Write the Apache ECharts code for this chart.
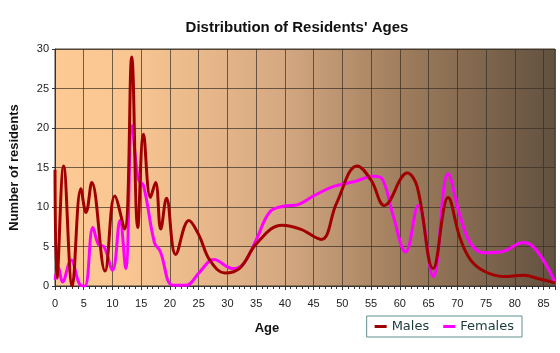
<!DOCTYPE html>
<html lang="en">
<head>
<meta charset="UTF-8">
<script src="https://cdn.jsdelivr.net/npm/echarts@6/dist/echarts.min.js"></script>
<title>Distribution of Residents' Ages</title>
<style>
  html, body { margin: 0; padding: 0; background: #fff; }
</style>
</head>
<body>
<div id="main" style="width:560px;height:353px;"></div>
<script type="text/javascript">
// ages (x) and counts (y)
var maleAges = [0, 0.35, 1.5, 3, 4.5, 5.4, 6.4, 8.7, 10.4, 12.1, 13.35, 14.4, 15.4, 16.6, 17.5, 18.4, 19.4, 21, 23.3, 25, 27, 29.6, 32.2, 35.1, 39.5, 42.7, 46.3, 49, 52.6, 55, 57.3, 61.3, 63, 65.8, 68.4, 70.5, 72.3, 74.6, 78, 81.5, 84.5, 87];
var maleCounts = [14.7, 1, 15.2, 0, 12.3, 9.3, 13.1, 1.9, 11.4, 7.2, 29, 7.4, 19.2, 11.2, 13.1, 7.2, 11.1, 4.0, 8.3, 6.5, 3.2, 1.65, 2.3, 5.4, 7.7, 7.2, 5.9, 10.5, 15.2, 13.4, 10.2, 14.3, 12.6, 2.2, 11.2, 6, 3.3, 1.9, 1.2, 1.35, 0.85, 0.4];

var femaleAges = [0, 0.6, 1.3, 2.8, 4.3, 5.2, 6.6, 7.6, 8.5, 10, 11.3, 12.3, 13.4, 14.5, 15.4, 17.3, 18.3, 20.5, 22.8, 25.2, 27.6, 31, 32.8, 35.1, 37.4, 39.8, 42.3, 45, 48.5, 52, 55.5, 57, 58.8, 61, 63.2, 65.8, 68.4, 70.5, 72.3, 74.6, 78, 81.5, 83.8, 87];
var femaleCounts = [0.8, 2.3, 0.5, 3.3, 0.2, 0, 7.4, 5.2, 5, 2, 8.3, 2.2, 20.3, 13.5, 12.7, 5.5, 4.4, 0.1, 0.1, 1.8, 3.35, 2.2, 2.8, 6, 9.4, 10.1, 10.3, 11.4, 12.6, 13.2, 13.9, 13.5, 9, 4.3, 10.2, 1.2, 14.2, 8.8, 5.4, 4.2, 4.4, 5.5, 4.5, 0.5];

function pairs(xs, ys) {
    var out = [];
    for (var i = 0; i < xs.length; i++) out.push([xs[i], ys[i]]);
    return out;
}

var myChart = echarts.init(document.getElementById('main'));

var option = {
    backgroundColor: '#ffffff',
    animation: false,
    title: {
        text: "Distribution of Residents' Ages",
        left: 292,
        top: 15,
        textAlign: 'center',
        textStyle: { fontFamily: 'Liberation Sans', fontSize: 15, fontWeight: 'bold', color: '#111' }
    },
    legend: {
        right: 38,
        top: 316,
        itemGap: 14,
        padding: [4, 8, 4, 8],
        borderColor: '#5f8f8f',
        borderWidth: 1,
        icon: 'rect',
        itemWidth: 12,
        itemHeight: 3,
        textStyle: { fontFamily: 'DejaVu Sans', fontSize: 13, color: '#1a3a3a' },
        data: ['Males', 'Females']
    },
    grid: {
        left: 54, right: 5, top: 49, bottom: 67,
        show: true,
        borderColor: '#4a3f33',
        borderWidth: 1,
        backgroundColor: new echarts.graphic.LinearGradient(0, 0, 1, 0, [
            { offset: 0, color: '#fdca96' },
            { offset: 0.15, color: '#f9c692' },
            { offset: 0.45, color: '#d6a982' },
            { offset: 0.7, color: '#9e7c5c' },
            { offset: 1, color: '#625140' }
        ])
    },
    xAxis: {
        type: 'value',
        min: 0,
        max: 87,
        interval: 5,
        name: 'Age',
        nameLocation: 'middle',
        nameGap: 36,
        nameTextStyle: { fontFamily: 'Liberation Sans', fontSize: 13, fontWeight: 'bold', color: '#111', padding: [0, 76, 0, 0] },
        axisLine: { lineStyle: { color: '#333' } },
        axisTick: { show: true, length: 4, lineStyle: { color: '#333' } },
        minorTick: { show: true, splitNumber: 5, length: 3, lineStyle: { color: '#333' } },
        axisLabel: { fontFamily: 'Liberation Sans', fontSize: 11, color: '#222', margin: 12 },
        splitLine: { show: true, lineStyle: { color: 'rgba(55,45,35,0.7)', width: 1 } }
    },
    yAxis: {
        type: 'value',
        min: 0,
        max: 30,
        interval: 5,
        name: 'Number of residents',
        nameLocation: 'middle',
        nameGap: 34,
        nameTextStyle: { fontFamily: 'Liberation Sans', fontSize: 13, fontWeight: 'bold', color: '#111' },
        axisLine: { show: true, lineStyle: { color: '#333' } },
        axisTick: { show: true, length: 3, lineStyle: { color: '#333' } },
        axisLabel: { fontFamily: 'Liberation Sans', fontSize: 11, color: '#222', margin: 6 },
        splitLine: { show: true, lineStyle: { color: 'rgba(55,45,35,0.7)', width: 1 } }
    },
    series: [
        {
            name: 'Males',
            type: 'line',
            smooth: 0.4,
            symbol: 'none',
            clip: true,
            lineStyle: { color: '#a00000', width: 3 },
            itemStyle: { color: '#a00000' },
            data: pairs(maleAges, maleCounts),
            z: 3
        },
        {
            name: 'Females',
            type: 'line',
            smooth: 0.4,
            symbol: 'none',
            clip: true,
            lineStyle: { color: '#ff00ff', width: 3 },
            itemStyle: { color: '#ff00ff' },
            data: pairs(femaleAges, femaleCounts),
            z: 2
        }
    ]
};

myChart.setOption(option);
</script>
</body>
</html>
